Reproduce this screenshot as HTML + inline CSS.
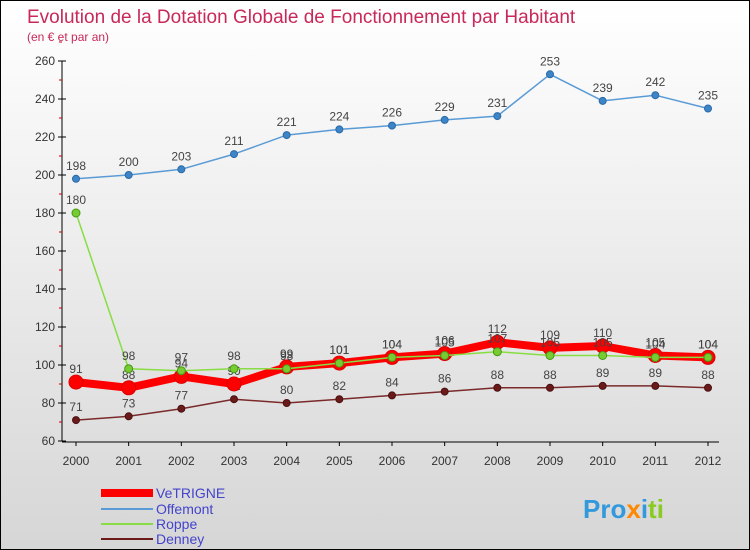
<!DOCTYPE html>
<html><head><meta charset="utf-8"><style>
body{margin:0;font-family:"Liberation Sans",sans-serif}
#c{position:relative;width:748px;height:548px;border:1px solid #000;background:linear-gradient(#fff,#d6d6d6);overflow:hidden}
</style></head><body>
<div id="c">
<svg id="s" width="748" height="548" xmlns="http://www.w3.org/2000/svg">
<text x="26" y="22" font-size="19" fill="#c8285a">Evolution de la Dotation Globale de Fonctionnement par Habitant</text>
<text x="26" y="40" font-size="12" fill="#c8285a">(en € et par an)</text>
<g id="axes"></g><g id="series"></g>
<g>
<line x1="100" y1="492" x2="152" y2="492" stroke="#f00" stroke-width="8"/>
<text x="155" y="497" font-size="14" fill="#4444cc">VeTRIGNE</text>
<line x1="100" y1="508" x2="152" y2="508" stroke="#5a9bd5" stroke-width="2"/>
<text x="155" y="513" font-size="14" fill="#4444cc">Offemont</text>
<line x1="100" y1="523" x2="152" y2="523" stroke="#88dd44" stroke-width="2"/>
<text x="155" y="528" font-size="14" fill="#4444cc">Roppe</text>
<line x1="100" y1="538" x2="152" y2="538" stroke="#6b1a1a" stroke-width="2"/>
<text x="155" y="543" font-size="14" fill="#4444cc">Denney</text>
</g>
<text x="582" y="517" font-size="26" font-weight="bold"><tspan fill="#3399dd">Pro</tspan><tspan fill="#ff8800">x</tspan><tspan fill="#3399dd">i</tspan><tspan fill="#88cc22">ti</tspan></text>
</svg></div>
<script>
const years=[2000,2001,2002,2003,2004,2005,2006,2007,2008,2009,2010,2011,2012];
const yTicks=[60,80,100,120,140,160,180,200,220,240,260];
const offemont=[198,200,203,211,221,224,226,229,231,253,239,242,235];
const vetrigne=[91,88,94,90,99,101,104,106,112,109,110,105,104];
const roppe=[180,98,97,98,98,101,104,105,107,105,105,104,104];
const denney=[71,73,77,82,80,82,84,86,88,88,89,89,88];
const NS="http://www.w3.org/2000/svg";
const X=y=>75+(y-2000)*(632/12);
const Y=v=>440-(v-60)*1.9;
function mk(t,a,p){const e=document.createElementNS(NS,t);for(const k in a)e.setAttribute(k,a[k]);p.appendChild(e);return e;}
const ax=document.getElementById('axes');
const yl=mk('line',{x1:61,y1:Y(260),x2:61,y2:Y(60),stroke:'#000'},ax);


const xl=mk('line',{x1:61,y1:Y(60)+1,x2:718,y2:Y(60)+1,stroke:'#000'},ax);


yTicks.forEach(v=>{
 mk('line',{x1:57,y1:Y(v),x2:65,y2:Y(v),stroke:'#000'},ax);
 mk('line',{x1:58,y1:Y(v+10),x2:61,y2:Y(v+10),stroke:'#c00'},ax);
 const t=mk('text',{x:54,y:Y(v)+4,'font-size':12,'text-anchor':'end',fill:'#333'},ax);t.textContent=v;
 
 
});
years.forEach(y=>{
 mk('line',{x1:X(y),y1:Y(60)+1,x2:X(y),y2:Y(60)+5,stroke:'#000'},ax);
 const t=mk('text',{x:X(y),y:464,'font-size':12,'text-anchor':'middle',fill:'#333'},ax);t.textContent=y;
 
 
});
const sg=document.getElementById('series');
function series(name,data,color,w,r,fill,stroke){
 const g=mk('g',{},sg);
 
 
 const pl=mk('polyline',{points:data.map((v,i)=>X(years[i])+','+Y(v)).join(' '),fill:'none',stroke:color,'stroke-width':w,'stroke-linejoin':'round'},g);
 
 
 data.forEach((v,i)=>{
  const c=mk('circle',{cx:X(years[i]),cy:Y(v),r:r,fill:fill,stroke:stroke,'stroke-width':1},g);
  
  
  const t=mk('text',{x:X(years[i]),y:Y(v)-9,'font-size':12,'text-anchor':'middle',fill:'#444'},g);t.textContent=v;
  
  
 });
}
series('offemont',offemont,'#5a9bd5',1.5,3.5,'#3d85c6','#2a6aa8');
series('denney',denney,'#7a2a2a',1.5,3.5,'#6b1a1a','#4a1010');
series('vetrigne',vetrigne,'#f00',8,7,'#f00','#d00');
series('roppe',roppe,'#88dd44',1.5,4,'#77cc33','#449911');
</script>
</body></html>
